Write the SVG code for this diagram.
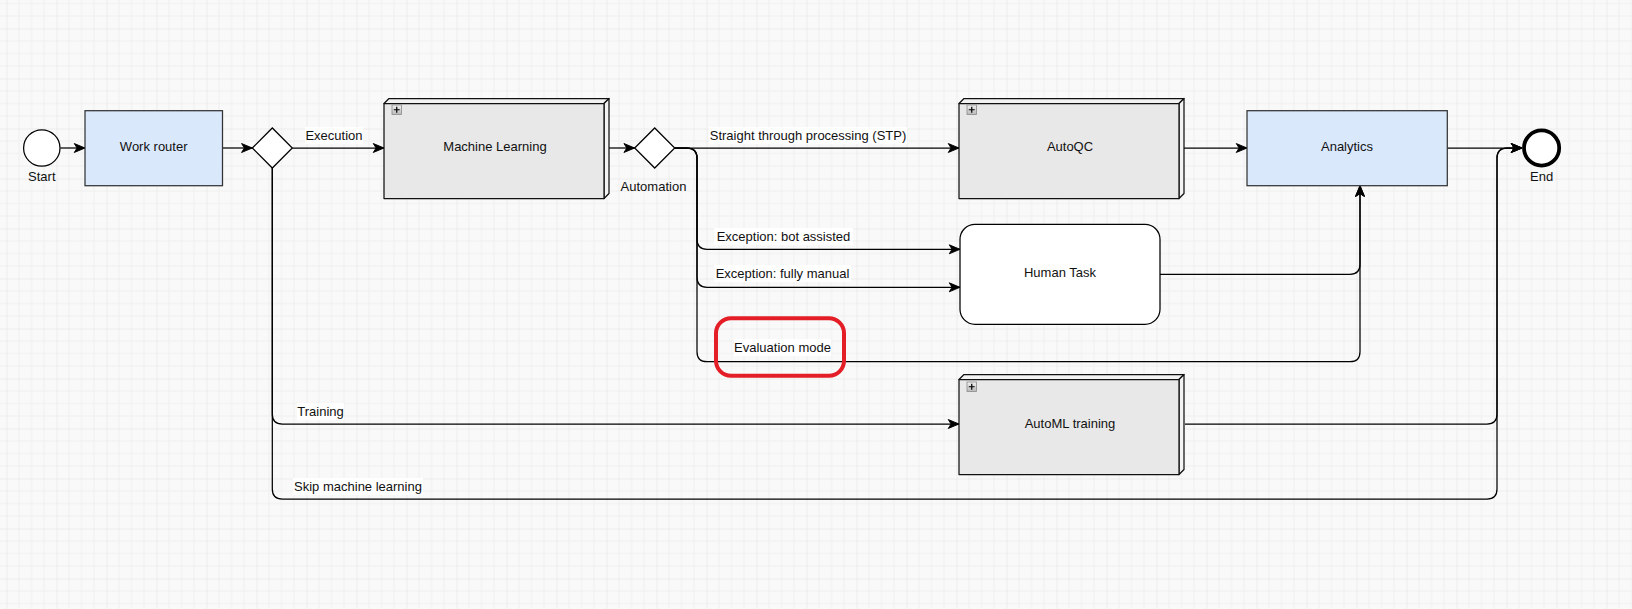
<svg xmlns="http://www.w3.org/2000/svg" width="1632" height="609" viewBox="0 0 1632 609">
<defs>
<pattern id="grid" x="6.5" y="28.5" width="50" height="50" patternUnits="userSpaceOnUse">
<rect width="50" height="50" fill="#f9f9f9"/>
<path d="M12.5 0V50M25 0V50M37.5 0V50M0 12.5H50M0 25H50M0 37.5H50" stroke="#efefef" stroke-width="1" fill="none"/>
<path d="M0 0V50M0 0H50" stroke="#e2e2e2" stroke-width="1" fill="none"/>
</pattern>
<marker id="arr" markerUnits="userSpaceOnUse" markerWidth="14" markerHeight="12" viewBox="-13 -6 15 12" refX="0" refY="0" orient="auto">
<path d="M0 0L-11.5 -4.8L-8.5 0L-11.5 4.8Z" fill="#000" stroke="#000" stroke-width="1" stroke-linejoin="miter"/>
</marker>
<linearGradient id="mk" x1="0" y1="0" x2="0" y2="1">
<stop offset="0" stop-color="#f2f2f2"/>
<stop offset="1" stop-color="#b8b8b8"/>
</linearGradient>
<g id="plus">
<rect x="0" y="0" width="9.5" height="9.5" fill="url(#mk)" stroke="#8a8a8a" stroke-width="0.8"/>
<path d="M4.75 1.8V7.7M1.8 4.75H7.7" stroke="#000" stroke-width="1.2"/>
</g>
</defs>
<style>
.t{font-family:"Liberation Sans",Arial,sans-serif;font-size:13px;fill:#111;text-anchor:middle;dominant-baseline:central}
.e{fill:none;stroke:#000;stroke-width:1.25}
.ea{fill:none;stroke:#000;stroke-width:1.25;marker-end:url(#arr)}
.lb{fill:#ffffff}
.blue{fill:#dae8fc;stroke:#333;stroke-width:1.25}
.front{fill:#e8e8e8;stroke:#111;stroke-width:1.25;stroke-linejoin:round}
.side{fill:#f3f3f3;stroke:#111;stroke-width:1.25;stroke-linejoin:round}
.gw{fill:#fff;stroke:#000;stroke-width:1.25}
</style>
<rect width="1632" height="609" fill="url(#grid)"/>

<g id="connectors">
<path class="ea" d="M60.3 148H85"/>
<path class="ea" d="M222.5 148H252.3"/>
<path class="ea" d="M292.3 148H384"/>
<path class="ea" d="M609 148H634.7"/>
<path class="ea" d="M674.7 148H959"/>
<path class="ea" d="M1184 148H1247"/>
<path class="ea" d="M1447.3 148H1522"/>
<path class="ea" d="M674.7 148H687Q697 148 697 158V239.3Q697 249.3 707 249.3H960"/>
<path class="ea" d="M674.7 148H687Q697 148 697 158V277.3Q697 287.3 707 287.3H960"/>
<path class="ea" d="M674.7 148H687Q697 148 697 158V351.7Q697 361.7 707 361.7H1350Q1360 361.7 1360 351.7V185.7"/>
<path class="ea" d="M1160 274.3H1350Q1360 274.3 1360 264.3V185.7"/>
<path class="ea" d="M272.3 168V414Q272.3 424 282.3 424H959"/>
<path class="ea" d="M272.3 168V489Q272.3 499 282.3 499H1487Q1497 499 1497 489V158Q1497 148 1507 148H1522"/>
<path class="ea" d="M1185 424H1487Q1497 424 1497 414V158Q1497 148 1507 148H1522"/>
<rect class="lb" x="305" y="127" width="58" height="17"/>
<text class="t" x="334" y="135.5">Execution</text>
<rect class="lb" x="709" y="127" width="198" height="17"/>
<text class="t" x="808" y="135.5">Straight through processing (STP)</text>
<rect class="lb" x="714" y="228" width="139" height="17"/>
<text class="t" x="783.5" y="236.5">Exception: bot assisted</text>
<rect class="lb" x="714" y="265" width="137" height="17"/>
<text class="t" x="782.5" y="273.5">Exception: fully manual</text>
<rect class="lb" x="734" y="339" width="97" height="17"/>
<text class="t" x="782.5" y="347.5">Evaluation mode</text>
<rect class="lb" x="297" y="403" width="47" height="17"/>
<text class="t" x="320.5" y="411.5">Training</text>
<rect class="lb" x="293" y="478" width="130" height="17"/>
<text class="t" x="358" y="486.5">Skip machine learning</text>
</g>

<g id="start">
<circle cx="41.8" cy="148" r="18.2" fill="#fff" stroke="#000" stroke-width="1.25"/>
<text class="t" x="41.8" y="176.5">Start</text>
</g>

<g id="work-router">
<rect class="blue" x="85" y="110.7" width="137.5" height="75"/>
<text class="t" x="153.7" y="146.6">Work router</text>
</g>

<g id="gateway-execution">
<path class="gw" d="M252.3 148L272.3 128L292.3 148L272.3 168Z"/>
</g>

<g id="machine-learning">
<path class="side" d="M384 103.5L389 98.5H609L604 103.5Z"/>
<path class="side" d="M604 103.5L609 98.5V193.5L604 198.5Z"/>
<rect class="front" x="384" y="103.5" width="220" height="95"/>
<use href="#plus" x="392" y="105"/>
<text class="t" x="495" y="146.6">Machine Learning</text>
</g>

<g id="gateway-automation">
<path class="gw" d="M634.7 148L654.7 128L674.7 148L654.7 168Z"/>
<text class="t" x="653.5" y="186">Automation</text>
</g>

<g id="autoqc">
<path class="side" d="M959 103.5L964 98.5H1184L1179 103.5Z"/>
<path class="side" d="M1179 103.5L1184 98.5V193.5L1179 198.5Z"/>
<rect class="front" x="959" y="103.5" width="220" height="95"/>
<use href="#plus" x="967" y="105"/>
<text class="t" x="1070" y="146.6">AutoQC</text>
</g>

<g id="analytics">
<rect class="blue" x="1247" y="110.7" width="200.3" height="75"/>
<text class="t" x="1347" y="146.6">Analytics</text>
</g>

<g id="end">
<circle cx="1541.6" cy="148" r="17.6" fill="#fff" stroke="#000" stroke-width="3.75"/>
<text class="t" x="1541.6" y="176">End</text>
</g>

<g id="human-task">
<rect x="960" y="224.3" width="200" height="100" rx="15" ry="15" fill="#fff" stroke="#000" stroke-width="1.25"/>
<text class="t" x="1060" y="272.8">Human Task</text>
</g>

<g id="automl-training">
<path class="side" d="M959 379.5L964 374.5H1184L1179 379.5Z"/>
<path class="side" d="M1179 379.5L1184 374.5V469.5L1179 474.5Z"/>
<rect class="front" x="959" y="379.5" width="220" height="95"/>
<use href="#plus" x="967" y="382"/>
<text class="t" x="1070" y="423">AutoML training</text>
</g>

<g id="highlight">
<rect x="716" y="318.3" width="128" height="57.4" rx="15" ry="15" fill="none" stroke="#e41e26" stroke-width="4"/>
</g>
</svg>
